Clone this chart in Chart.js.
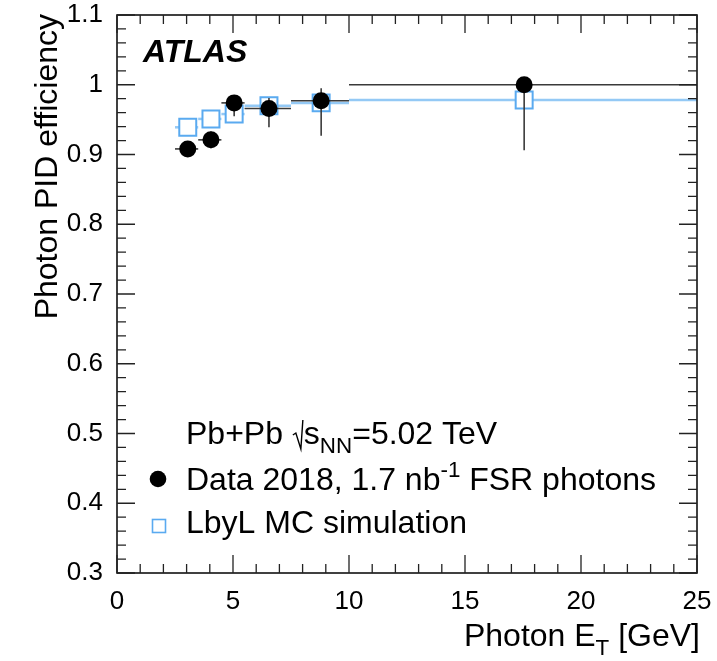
<!DOCTYPE html>
<html>
<head>
<meta charset="utf-8">
<script src="https://cdn.jsdelivr.net/npm/chart.js@4"></script>
<style>
  html, body { margin: 0; padding: 0; background: #fff; }
  #wrap { width: 717px; height: 661px; }
</style>
</head>
<body>
<div id="wrap"><canvas id="c" width="717" height="661"></canvas></div>
<script>
// ---- data ----
const binLow  = [2.5, 3.5, 4.5, 5.5, 7.5, 10];
const binHigh = [3.5, 4.5, 5.5, 7.5, 10, 25];
const pointX  = [3.05, 4.05, 5.05, 6.55, 8.8, 17.55];

const dataY      = [0.908, 0.921, 0.974, 0.966, 0.977, 1.0];
const dataErrUp  = [0.006, 0.012, 0.011, 0.015, 0.018, 0.0];
const dataErrLow = [0.006, 0.012, 0.019, 0.027, 0.050, 0.094];

const mcY   = [0.939, 0.951, 0.958, 0.970, 0.974, 0.978];
const mcErr = [0.004, 0.004, 0.004, 0.003, 0.003, 0.003];

const xTicks = [0, 5, 10, 15, 20, 25];
const yTicks = [0.3, 0.4, 0.5, 0.6, 0.7, 0.8, 0.9, 1.0, 1.1];

const FONT = '"Liberation Sans", Arial, Helvetica, sans-serif';
const MC_COLOR = '#5aaaf0';
const MC_LINE = '#94c9f5';
const DATA_LINE = '#3a3a3a';

function drawRich(ctx, x, y, parts, size, align) {
  const widths = parts.map(p => {
    ctx.font = (p.s ? size * 0.7 : size) + 'px ' + FONT;
    return ctx.measureText(p.t).width;
  });
  const total = widths.reduce((a, b) => a + b, 0);
  let cx = align === 'right' ? x - total : x;
  parts.forEach((p, i) => {
    ctx.font = (p.s ? size * 0.7 : size) + 'px ' + FONT;
    const dy = p.s === -1 ? size * 0.28 : (p.s === 1 ? -size * 0.42 : 0);
    ctx.fillText(p.t, cx, y + dy);
    cx += widths[i];
  });
  return total;
}

const errorBars = {
  id: 'errorBars',
  beforeDatasetDraw(chart, args) {
    const { ctx, scales: { x, y } } = chart;
    const ds = chart.data.datasets[args.index];
    ctx.save();
    ctx.lineCap = 'butt';
    if (ds.label === 'MC') {
      ctx.strokeStyle = MC_LINE;
      ctx.lineWidth = 2.5;
      for (let i = 0; i < mcY.length; i++) {
        const py = y.getPixelForValue(mcY[i]);
        ctx.beginPath();
        ctx.moveTo(x.getPixelForValue(binLow[i]), py);
        ctx.lineTo(x.getPixelForValue(binHigh[i]), py);
        ctx.stroke();
        const px = x.getPixelForValue(pointX[i]);
        ctx.beginPath();
        ctx.moveTo(px, y.getPixelForValue(mcY[i] + mcErr[i]));
        ctx.lineTo(px, y.getPixelForValue(mcY[i] - mcErr[i]));
        ctx.stroke();
      }
    } else {
      ctx.strokeStyle = DATA_LINE;
      ctx.lineWidth = 1.6;
      for (let i = 0; i < dataY.length; i++) {
        const py = y.getPixelForValue(dataY[i]);
        ctx.beginPath();
        ctx.moveTo(x.getPixelForValue(binLow[i]), py);
        ctx.lineTo(x.getPixelForValue(binHigh[i]), py);
        ctx.stroke();
        const px = x.getPixelForValue(pointX[i]);
        ctx.beginPath();
        ctx.moveTo(px, y.getPixelForValue(dataY[i] + dataErrUp[i]));
        ctx.lineTo(px, y.getPixelForValue(dataY[i] - dataErrLow[i]));
        ctx.stroke();
      }
    }
    ctx.restore();
  }
};

const frameAndText = {
  id: 'frameAndText',
  afterDraw(chart) {
    const { ctx, chartArea: a, scales: { x, y } } = chart;
    ctx.save();
    ctx.strokeStyle = '#111';
    ctx.lineWidth = 1.6;
    ctx.strokeRect(a.left, a.top, a.right - a.left, a.bottom - a.top);
    ctx.lineWidth = 1.3;
    ctx.strokeStyle = '#222';
    ctx.beginPath();
    for (let v = 0; v <= 25.0001; v += 1) {
      const px = x.getPixelForValue(v);
      const len = (Math.round(v) % 5 === 0) ? 18 : 9;
      ctx.moveTo(px, a.bottom); ctx.lineTo(px, a.bottom - len);
      ctx.moveTo(px, a.top);    ctx.lineTo(px, a.top + len);
    }
    for (let k = 0; k <= 40; k++) {
      const v = 0.3 + k * 0.02;
      const py = y.getPixelForValue(v);
      const len = (k % 5 === 0) ? 18 : 9;
      ctx.moveTo(a.left, py);  ctx.lineTo(a.left + len, py);
      ctx.moveTo(a.right, py); ctx.lineTo(a.right - len, py);
    }
    ctx.stroke();

    ctx.fillStyle = '#000';
    ctx.textBaseline = 'alphabetic';
    ctx.font = 'italic bold 32px ' + FONT;
    ctx.textAlign = 'left';
    ctx.fillText('ATLAS', 143, 62);

    drawRich(ctx, a.right + 3, 646, [
      { t: 'Photon E', s: 0 }, { t: 'T', s: -1 }, { t: ' [GeV]', s: 0 }
    ], 32, 'right');

    ctx.save();
    ctx.translate(57, a.top - 1);
    ctx.rotate(-Math.PI / 2);
    ctx.font = '32px ' + FONT;
    ctx.textAlign = 'right';
    ctx.fillText('Photon PID efficiency', 0, 0);
    ctx.restore();

    ctx.textAlign = 'left';
    const lx = 186;
    const LS = 32;
    let w = drawRich(ctx, lx, 444, [{ t: 'Pb+Pb ', s: 0 }], LS, 'left');
    const rx = lx + w + 1;
    ctx.save();
    ctx.strokeStyle = '#000';
    ctx.lineWidth = 1.4;
    ctx.beginPath();
    ctx.moveTo(rx, 435);
    ctx.lineTo(rx + 3, 433);
    ctx.lineTo(rx + 8, 449);
    ctx.lineTo(rx + 10, 420);
    ctx.stroke();
    ctx.restore();
    drawRich(ctx, rx + 11, 444, [
      { t: 's', s: 0 }, { t: 'NN', s: -1 }, { t: '=5.02 TeV', s: 0 }
    ], LS, 'left');

    drawRich(ctx, lx, 490, [
      { t: 'Data 2018, 1.7 nb', s: 0 }, { t: '-1', s: 1 }, { t: ' FSR photons', s: 0 }
    ], LS, 'left');
    drawRich(ctx, lx, 533, [{ t: 'LbyL MC simulation', s: 0 }], LS, 'left');

    ctx.beginPath();
    ctx.arc(158, 479, 8.3, 0, Math.PI * 2);
    ctx.fillStyle = '#000';
    ctx.fill();
    ctx.strokeStyle = MC_COLOR;
    ctx.lineWidth = 1.6;
    ctx.strokeRect(152.5, 519.5, 13, 13);
    ctx.restore();
  }
};

new Chart(document.getElementById('c'), {
  type: 'scatter',
  data: {
    datasets: [
      {
        label: 'Data',
        data: pointX.map((xv, i) => ({ x: xv, y: dataY[i] })),
        pointStyle: 'circle',
        pointRadius: 8.5,
        backgroundColor: '#000',
        borderColor: '#000',
        borderWidth: 0
      },
      {
        label: 'MC',
        data: pointX.map((xv, i) => ({ x: xv, y: mcY[i] })),
        pointStyle: 'rect',
        pointRadius: 12,
        backgroundColor: '#fff',
        borderColor: MC_COLOR,
        borderWidth: 2
      }
    ]
  },
  options: {
    responsive: false,
    devicePixelRatio: 1,
    animation: false,
    events: [],
    layout: { padding: { top: 15, right: 20, left: 0, bottom: 0 } },
    plugins: { legend: { display: false }, tooltip: { enabled: false } },
    scales: {
      x: {
        type: 'linear',
        min: 0, max: 25,
        afterBuildTicks: s => { s.ticks = xTicks.map(v => ({ value: v })); },
        afterFit: s => { s.height = 88; s.paddingLeft = 0; s.paddingRight = 0; },
        grid: { display: false },
        border: { display: false },
        ticks: {
          font: { family: FONT, size: 26 },
          color: '#000',
          padding: 5,
          maxRotation: 0,
          callback: v => String(v)
        }
      },
      y: {
        type: 'linear',
        min: 0.3, max: 1.1,
        afterBuildTicks: s => { s.ticks = yTicks.map(v => ({ value: v })); },
        afterFit: s => { s.width = 117; s.paddingTop = 0; s.paddingBottom = 0; },
        grid: { display: false },
        border: { display: false },
        ticks: {
          font: { family: FONT, size: 26 },
          color: '#000',
          padding: 6,
          callback: v => String(Math.round(v * 10) / 10)
        }
      }
    }
  },
  plugins: [errorBars, frameAndText]
});
</script>
</body>
</html>
